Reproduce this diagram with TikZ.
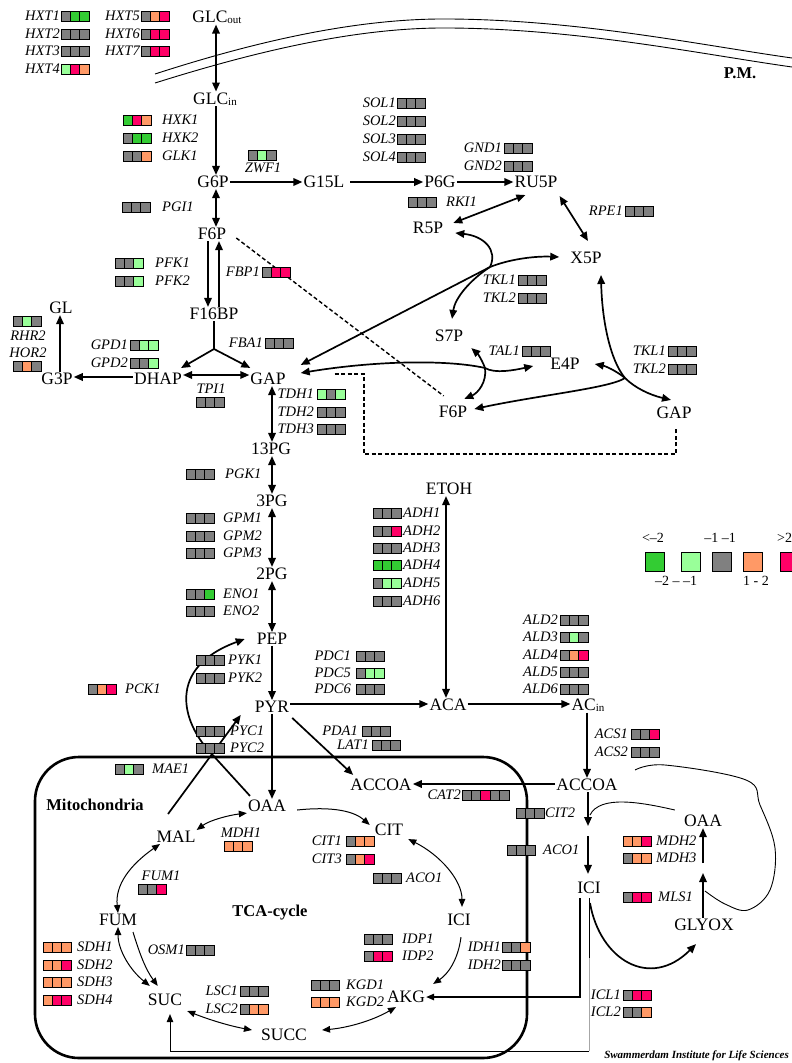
\documentclass[tikz,border=0pt]{standalone}
\usepackage{fontspec}
\setmainfont{Liberation Serif}
\usetikzlibrary{arrows.meta,calc}
\definecolor{dg}{RGB}{51,204,51}
\definecolor{lg}{RGB}{153,255,153}
\definecolor{gy}{RGB}{128,128,128}
\definecolor{og}{RGB}{255,153,102}
\definecolor{rd}{RGB}{255,0,102}
\newcommand{\gbox}[3]{\foreach \cc [count=\ii from 0] in {#3}{\filldraw[fill=\cc,draw=black,line width=0.9pt] ({#1+\ii*9.4},{#2-5}) rectangle ++(9.4,10);}}
\newcommand{\gene}[7]{\node[enz,anchor=#3] (#1) at (#4,#5) {#2}; \gbox{#6}{#5}{#7}}
\newcommand{\subtxt}[1]{\raisebox{-1pt}{\fontsize{11}{11}\selectfont #1}}
\begin{document}
\begin{tikzpicture}[x=1pt,y=-1pt,
 met/.style={font=\fontsize{17.5}{18}\selectfont, inner sep=1pt},
 enz/.style={font=\fontsize{14.5}{15}\selectfont\itshape, inner sep=0pt},
 boldlbl/.style={font=\fontsize{16.5}{17}\selectfont\bfseries, inner sep=0pt},
 leg/.style={font=\fontsize{14}{14}\selectfont, inner sep=0pt},
 flow/.style={line width=1.7pt, -{Triangle[length=9pt,width=7.5pt]}},
 rflow/.style={line width=1.7pt, {Triangle[length=9pt,width=7.5pt]}-{Triangle[length=9pt,width=7.5pt]}},
 tca/.style={line width=1pt, -{Triangle[length=8pt,width=6.5pt]}},
 rtca/.style={line width=1pt, {Triangle[length=8pt,width=6.5pt]}-{Triangle[length=8pt,width=6.5pt]}},
 memb/.style={line width=0.9pt},
 dashline/.style={line width=1.4pt, dash pattern=on 4pt off 2.5pt},
]
\useasboundingbox (0,0) rectangle (792,1063);
\fill[white] (0,0) rectangle (792,1063);

% membrane
\draw[memb] (155,74) .. controls (260,40) and (360,18) .. (450,19) .. controls (580,20) and (700,45) .. (792,58);
\draw[memb] (155,83) .. controls (260,50) and (360,27) .. (450,28) .. controls (580,29) and (700,54) .. (792,67);
\node[boldlbl] (PM) at (740,73) {P.M.};

% mitochondria
\draw[line width=2.6pt, rounded corners=44pt] (35,757) rectangle (527,1058);
\node[boldlbl] (mitolbl) at (95,805) {Mitochondria};
\node[boldlbl] (tcalbl) at (270,913) {TCA-cycle};

% metabolites
\node[met] (GLCout) at (217,17) {GLC\subtxt{out}};
\node[met] (GLCin) at (215,99) {GLC\subtxt{in}};
\node[met] (G6P) at (213,182) {G6P};
\node[met] (F6P) at (212,234) {F6P};
\node[met] (F16BP) at (214,314) {F16BP};
\node[met] (DHAP) at (158,379) {DHAP};
\node[met] (G3P) at (57,379) {G3P};
\node[met] (GL) at (61,308) {GL};
\node[met] (GAP) at (268,379) {GAP};
\node[met] (PG13) at (271,449) {13PG};
\node[met] (PG3) at (272,501) {3PG};
\node[met] (PG2) at (272,574) {2PG};
\node[met] (PEP) at (272,639) {PEP};
\node[met] (PYR) at (272,707) {PYR};
\node[met] (G15L) at (324,182) {G15L};
\node[met] (P6G) at (440,182) {P6G};
\node[met] (RU5P) at (536,182) {RU5P};
\node[met] (R5P) at (428,228) {R5P};
\node[met] (X5P) at (586,258) {X5P};
\node[met] (S7P) at (449,336) {S7P};
\node[met] (F6Pb) at (453,412) {F6P};
\node[met] (E4P) at (565,364) {E4P};
\node[met] (GAPb) at (674,413) {GAP};
\node[met] (ETOH) at (449,489) {ETOH};
\node[met] (ACA) at (448,705) {ACA};
\node[met] (ACin) at (588,705) {AC\subtxt{in}};
\node[met] (ACCOAc) at (587,785) {ACCOA};
\node[met] (ACCOAm) at (381,785) {ACCOA};
\node[met] (OAAm) at (267,806) {OAA};
\node[met] (MAL) at (176,837) {MAL};
\node[met] (CIT) at (389,830) {CIT};
\node[met] (ICIm) at (459,920) {ICI};
\node[met] (AKG) at (406,997) {AKG};
\node[met] (SUCC) at (284,1035) {SUCC};
\node[met] (SUC) at (165,1000) {SUC};
\node[met] (FUM) at (118,920) {FUM};
\node[met] (ICIc) at (589,888) {ICI};
\node[met] (GLYOX) at (704,925) {GLYOX};
\node[met] (OAAg) at (703,821) {OAA};

% glycolysis arrows
\draw[rflow] (GLCout.south -| 216,0) -- (GLCin.north -| 216,0);
\draw[flow] (GLCin.south -| 216,0) -- (G6P.north -| 216,0);
\draw[rflow] (G6P.south -| 216,0) -- (F6P.north -| 216,0);
\draw[flow] (F6P.south -| 208,0) -- (F16BP.north -| 208,0);
\draw[flow] (F16BP.north -| 219,0) -- (F6P.south -| 219,0);
\coordinate (fork) at (214,349);
\draw[line width=1.7pt] (F16BP.south -| 214,0) -- (fork);
\draw[flow] (fork) -- ([shift={(-2,-4)}]DHAP.north east);
\draw[flow] (fork) -- ([shift={(1,-4)}]GAP.north west);
\draw[rflow] (DHAP.east |- 0,375) -- (GAP.west |- 0,375);
\draw[flow] (DHAP.west |- 0,377) -- (G3P.east |- 0,377);
\draw[flow] (G3P.north -| 60,0) -- (GL.south -| 60,0);
\draw[rflow] (GAP.south -| 272,0) -- (PG13.north -| 272,0);
\draw[rflow] (PG13.south -| 272,0) -- (PG3.north -| 272,0);
\draw[rflow] (PG3.south -| 272,0) -- (PG2.north -| 272,0);
\draw[rflow] (PG2.south -| 272,0) -- (PEP.north -| 272,0);
\draw[flow] (PEP.south -| 272,0) -- (PYR.north -| 272,0);
\draw[flow] (PYR.south -| 272,0) -- (OAAm.north -| 272,0);
\draw[flow] (PYR.east |- 0,704) -- (ACA.west |- 0,704);
\draw[rflow] (ACA.north -| 446,0) -- (ETOH.south -| 446,0);
\draw[flow] (ACA.east |- 0,704) -- (ACin.west |- 0,704);
\draw[flow] (ACin.south -| 587,0) -- (ACCOAc.north -| 587,0);
\draw[flow] (ACCOAc.west |- 0,784) -- (ACCOAm.east |- 0,784);
\draw[flow] ([shift={(2,4)}]PYR.south east) -- ([shift={(4,-3)}]ACCOAm.north west);
\draw[flow] ([shift={(-8,-16)}]MAL.north) -- ([shift={(-13,1)}]PYR.south west);
\draw[flow] ([shift={(-17,-3)}]OAAm.north) -- (210,752) .. controls (182,722) and (166,668) .. ([shift={(-11,0)}]PEP.west);

% pentose phosphate
\draw[flow] (G6P.east) -- (G15L.west);
\draw[flow] (G15L.west -| 350,0) -- (P6G.west);
\draw[flow] (P6G.east) -- (RU5P.west);
\draw[rflow] ([shift={(12,6)}]RU5P.south west) -- ([shift={(9,2)}]R5P.north east);
\draw[rflow] ([shift={(1,7)}]RU5P.south east) -- ([shift={(2,-10)}]X5P.north);
\coordinate (j1) at (490,267);
\draw[flow] (j1) .. controls (498,250) and (484,236) .. ([shift={(11,5)}]R5P.east);
\draw[flow] (j1) .. controls (510,259) and (535,256) .. ([shift={(-10,-1)}]X5P.west);
\draw[flow] (j1) .. controls (470,280) and (455,298) .. ([shift={(3,-10)}]S7P.north);
\draw[flow] (j1) -- ([shift={(14,-7)}]GAP.north east);
\coordinate (j2) at (485,368);
\draw[flow] (j2) .. controls (450,360) and (380,360) .. ([shift={(14,-6)}]GAP.east);
\draw[flow] (j2) .. controls (495,374) and (515,370) .. ([shift={(-16,2)}]E4P.west);
\draw[flow] (j2) .. controls (482,360) and (478,354) .. ([shift={(7,5)}]S7P.south east);
\draw[flow] (j2) .. controls (487,382) and (478,393) .. ([shift={(-4,-6)}]F6Pb.north east);
\coordinate (j3) at (625,378);
\draw[flow] (j3) .. controls (610,360) and (602,320) .. ([shift={(15,10)}]X5P.south);
\draw[flow] (j3) .. controls (635,388) and (650,395) .. ([shift={(-3,-6)}]GAPb.north);
\draw[flow] (j3) .. controls (615,370) and (605,366) .. ([shift={(14,0)}]E4P.east);
\draw[flow] (j3) .. controls (610,388) and (540,395) .. ([shift={(6,-3)}]F6Pb.east);
\draw[dashline] ([shift={(9,4)}]F6P.east) -- ([shift={(6,-9)}]F6Pb.north west);
\draw[dashline] ([shift={(48,-5)}]GAP.east) -| (364,454) -| ([shift={(2,7)}]GAPb.south);

% mitochondrial TCA
\draw[rtca] (OAAm.south west) .. controls (230,815) and (210,820) .. (MAL.north east);
\draw[tca] ([shift={(10,4)}]OAAm.east) .. controls (335,806) and (355,812) .. ([shift={(-4,2)}]CIT.north west);
\draw[rtca] ([shift={(4,2)}]CIT.south east) .. controls (440,855) and (462,880) .. ([shift={(3,-6)}]ICIm.north);
\draw[tca] ([shift={(2,10)}]ICIm.south) .. controls (458,960) and (448,974) .. ([shift={(7,-6)}]AKG.north east);
\draw[rtca] ([shift={(-10,3)}]AKG.south) .. controls (370,1022) and (345,1028) .. ([shift={(14,-5)}]SUCC.east);
\draw[rtca] ([shift={(4,11)}]SUC.east) .. controls (210,1020) and (230,1026) .. ([shift={(-8,-5)}]SUCC.west);
\draw[rtca] (FUM.south) .. controls (118,950) and (130,970) .. ([shift={(3,-7)}]SUC.north west);
\draw[tca] ([shift={(15,5)}]FUM.south) .. controls (140,955) and (146,970) .. ([shift={(11,-7)}]SUC.north west);
\draw[rtca] ([shift={(-16,0)}]MAL.south) .. controls (130,865) and (115,885) .. (FUM.north);

% cytosolic ACCOA / glyoxylate
\coordinate (citM) at (588,831);
\draw[flow] (ACCOAc.south -| 588,0) -- ([shift={(0,-5)}]citM);
\draw[flow] ([shift={(0,5)}]citM) -- ([shift={(0,-7)}]ICIc.north -| 588,0);
\draw[line width=0.9pt] ([shift={(-8,-11)}]OAAg.west) .. controls (640,802) and (600,795) .. (590,815);
\draw[flow] ([shift={(1,8)}]ICIc.south) .. controls (600,960) and (650,990) .. ([shift={(-8,12)}]GLYOX.south);
\coordinate (mlsM) at (703,868);
\draw[flow] (GLYOX.north -| 703,0) -- ([shift={(0,5)}]mlsM);
\draw[flow] ([shift={(0,-5)}]mlsM) -- (OAAg.south -| 703,0);
\draw[line width=0.9pt] plot[smooth, tension=0.6] coordinates {(635,770) (665,765) (746,780) (760,805) (775,848) (770,890) (748,910) (725,904) (705,891)};
\draw[line width=1.2pt, -{Triangle[length=8pt,width=6.5pt]}] ([shift={(-9,3)}]ICIc.south) -- (580,997) -- (AKG.east);
\coordinate (icl) at (589,958);
\draw[line width=0.9pt] ([shift={(0,3)}]ICIc.south) -- (icl);
\draw[line width=0.9pt, gray!70] (icl) -- (589,1051);
\draw[line width=0.9pt, -{Triangle[length=8pt,width=6.5pt]}] (589,1051) -- (170,1051) -- ([shift={(0,7)}]SUC.south -| 170,0);

% gene boxes
\gene{HXT1}{HXT1}{east}{60}{16}{61}{gy,dg,dg}
\gene{HXT2}{HXT2}{east}{60}{34}{61}{gy,gy,gy}
\gene{HXT3}{HXT3}{east}{60}{51}{61}{gy,gy,gy}
\gene{HXT4}{HXT4}{east}{60}{69}{61}{lg,rd,og}
\gene{HXT5}{HXT5}{east}{140}{16}{141}{gy,og,rd}
\gene{HXT6}{HXT6}{east}{140}{34}{141}{gy,rd,rd}
\gene{HXT7}{HXT7}{east}{140}{51}{141}{gy,rd,rd}
\gene{HXK1}{HXK1}{west}{162}{120}{123}{dg,rd,og}
\gene{HXK2}{HXK2}{west}{162}{138}{123}{gy,dg,dg}
\gene{GLK1}{GLK1}{west}{162}{156}{123}{gy,gy,og}
\gbox{248}{155}{gy,lg,gy}
\node[enz] (ZWF1) at (263,168) {ZWF1};
\gene{PGI1}{PGI1}{west}{162}{207}{122}{gy,gy,gy}
\gene{SOL1}{SOL1}{east}{396}{103}{397}{gy,gy,gy}
\gene{SOL2}{SOL2}{east}{396}{121}{397}{gy,gy,gy}
\gene{SOL3}{SOL3}{east}{396}{139}{397}{gy,gy,gy}
\gene{SOL4}{SOL4}{east}{396}{157}{397}{gy,gy,gy}
\gene{GND1}{GND1}{east}{502}{148}{504}{gy,gy,gy}
\gene{GND2}{GND2}{east}{502}{166}{504}{gy,gy,gy}
\gene{RKI1}{RKI1}{west}{446}{202}{408}{gy,gy,gy}
\gene{RPE1}{RPE1}{east}{623}{211}{625}{gy,gy,gy}
\gene{PFK1}{PFK1}{west}{155}{263}{115}{gy,gy,lg}
\gene{PFK2}{PFK2}{west}{155}{281}{115}{gy,gy,lg}
\gene{FBP1}{FBP1}{east}{260}{272}{262}{gy,rd,rd}
\gene{FBA1}{FBA1}{east}{263}{343}{265}{gy,gy,gy}
\gene{GPD1}{GPD1}{east}{128}{345}{130}{gy,lg,lg}
\gene{GPD2}{GPD2}{east}{128}{363}{130}{gy,gy,lg}
\gbox{13}{321}{gy,lg,gy}
\node[enz] (RHR2) at (28,336) {RHR2};
\node[enz] (HOR2) at (28,353) {HOR2};
\gbox{13}{366}{gy,og,gy}
\node[enz] (TPI1) at (211,389) {TPI1};
\gbox{196}{402}{gy,gy,gy}
\gene{TDH1}{TDH1}{east}{314}{394}{317}{lg,gy,lg}
\gene{TDH2}{TDH2}{east}{314}{412}{317}{gy,gy,gy}
\gene{TDH3}{TDH3}{east}{314}{429}{317}{gy,gy,gy}
\gene{PGK1}{PGK1}{west}{225}{474}{186}{gy,gy,gy}
\gene{GPM1}{GPM1}{west}{223}{518}{186}{gy,gy,gy}
\gene{GPM2}{GPM2}{west}{223}{536}{186}{gy,gy,gy}
\gene{GPM3}{GPM3}{west}{223}{553}{186}{gy,gy,gy}
\gene{ENO1}{ENO1}{west}{223}{594}{186}{gy,gy,dg}
\gene{ENO2}{ENO2}{west}{223}{611}{186}{gy,gy,gy}
\gene{PYK1}{PYK1}{west}{228}{660}{196}{gy,gy,gy}
\gene{PYK2}{PYK2}{west}{228}{678}{196}{gy,gy,gy}
\gene{PCK1}{PCK1}{west}{125}{689}{88}{gy,og,rd}
\gene{PYC1}{PYC1}{west}{230}{731}{196}{gy,gy,gy}
\gene{PYC2}{PYC2}{west}{230}{748}{196}{gy,gy,gy}
\gene{MAE1}{MAE1}{west}{152}{769}{115}{gy,lg,gy}
\gene{TKL1a}{TKL1}{east}{516}{280}{518}{gy,gy,gy}
\gene{TKL2a}{TKL2}{east}{516}{298}{518}{gy,gy,gy}
\gene{TAL1}{TAL1}{east}{520}{351}{522}{gy,gy,gy}
\gene{TKL1b}{TKL1}{east}{666}{351}{668}{gy,gy,gy}
\gene{TKL2b}{TKL2}{east}{666}{369}{668}{gy,gy,gy}
\gene{ADH1}{ADH1}{west}{403}{513}{373}{gy,gy,gy}
\gene{ADH2}{ADH2}{west}{403}{531}{373}{gy,gy,rd}
\gene{ADH3}{ADH3}{west}{403}{548}{373}{gy,gy,gy}
\gene{ADH4}{ADH4}{west}{403}{565}{373}{dg,dg,dg}
\gene{ADH5}{ADH5}{west}{403}{583}{373}{gy,lg,lg}
\gene{ADH6}{ADH6}{west}{403}{601}{373}{gy,gy,gy}
\gene{PDC1}{PDC1}{east}{351}{656}{356}{gy,gy,gy}
\gene{PDC5}{PDC5}{east}{351}{673}{356}{gy,lg,lg}
\gene{PDC6}{PDC6}{east}{351}{689}{356}{gy,gy,gy}
\gene{ALD2}{ALD2}{east}{558}{620}{560}{gy,gy,gy}
\gene{ALD3}{ALD3}{east}{558}{637}{560}{gy,lg,gy}
\gene{ALD4}{ALD4}{east}{558}{655}{560}{gy,og,rd}
\gene{ALD5}{ALD5}{east}{558}{672}{560}{gy,gy,gy}
\gene{ALD6}{ALD6}{east}{558}{689}{560}{gy,gy,gy}
\gene{ACS1}{ACS1}{east}{628}{734}{631}{gy,gy,rd}
\gene{ACS2}{ACS2}{east}{628}{752}{631}{gy,gy,gy}
\gene{PDA1}{PDA1}{east}{358}{731}{362}{gy,gy,gy}
\gene{LAT1}{LAT1}{east}{369}{745}{372}{gy,gy,gy}
\gene{CAT2}{CAT2}{east}{461}{795}{462}{gy,gy,rd,gy,gy}
\gene{CIT2}{CIT2}{west}{545}{813}{516}{gy,gy,gy}
\gene{ACO1c}{ACO1}{west}{543}{850}{507}{gy,gy,gy}
\node[enz] (MDH1) at (241,833) {MDH1};
\gbox{224}{846}{og,og,og}
\gene{CIT1}{CIT1}{east}{342}{841}{346}{gy,og,og}
\gene{CIT3}{CIT3}{east}{342}{859}{346}{gy,og,rd}
\gene{ACO1m}{ACO1}{west}{406}{878}{373}{gy,gy,gy}
\gene{IDP1}{IDP1}{west}{402}{939}{364}{gy,gy,gy}
\gene{IDP2}{IDP2}{west}{402}{956}{364}{gy,rd,rd}
\gene{IDH1}{IDH1}{east}{501}{947}{502}{gy,gy,og}
\gene{IDH2}{IDH2}{east}{501}{965}{502}{gy,gy,gy}
\gene{KGD1}{KGD1}{west}{346}{985}{311}{gy,gy,gy}
\gene{KGD2}{KGD2}{west}{346}{1002}{311}{og,og,og}
\gene{LSC1}{LSC1}{east}{238}{991}{240}{gy,gy,gy}
\gene{LSC2}{LSC2}{east}{238}{1009}{240}{gy,og,og}
\node[enz] (FUM1) at (161,876) {FUM1};
\gbox{138}{889}{gy,gy,rd}
\gene{OSM1}{OSM1}{east}{185}{950}{186}{gy,gy,gy}
\gene{SDH1}{SDH1}{west}{77}{947}{43}{og,og,og}
\gene{SDH2}{SDH2}{west}{77}{965}{43}{og,og,rd}
\gene{SDH3}{SDH3}{west}{77}{982}{43}{og,og,og}
\gene{SDH4}{SDH4}{west}{77}{1000}{43}{og,rd,rd}
\gene{MDH2}{MDH2}{west}{656}{841}{623}{og,og,rd}
\gene{MDH3}{MDH3}{west}{656}{858}{623}{gy,og,og}
\gene{MLS1}{MLS1}{west}{658}{897}{623}{gy,rd,rd}
\gene{ICL1}{ICL1}{east}{621}{995}{623}{gy,rd,rd}
\gene{ICL2}{ICL2}{east}{621}{1012}{623}{gy,gy,og}

% legend
\foreach \c/\x in {dg/645, lg/681, gy/712, og/743, rd/780} \filldraw[fill=\c, line width=0.9pt] (\x,552) rectangle ++(19,19);
\node[leg] (l1) at (653,538) {<–2};
\node[leg] (l2) at (720,538) {–1 –1};
\node[leg,anchor=west] (l3) at (777,538) {>2};
\node[leg] (l4) at (676,581) {–2 – –1};
\node[leg] (l5) at (756,581) {1 - 2};

\node[font=\fontsize{11}{11}\selectfont\bfseries\itshape, anchor=east, inner sep=0pt] (foot) at (789,1056) {Swammerdam Institute for Life Sciences};
\end{tikzpicture}
\end{document}
